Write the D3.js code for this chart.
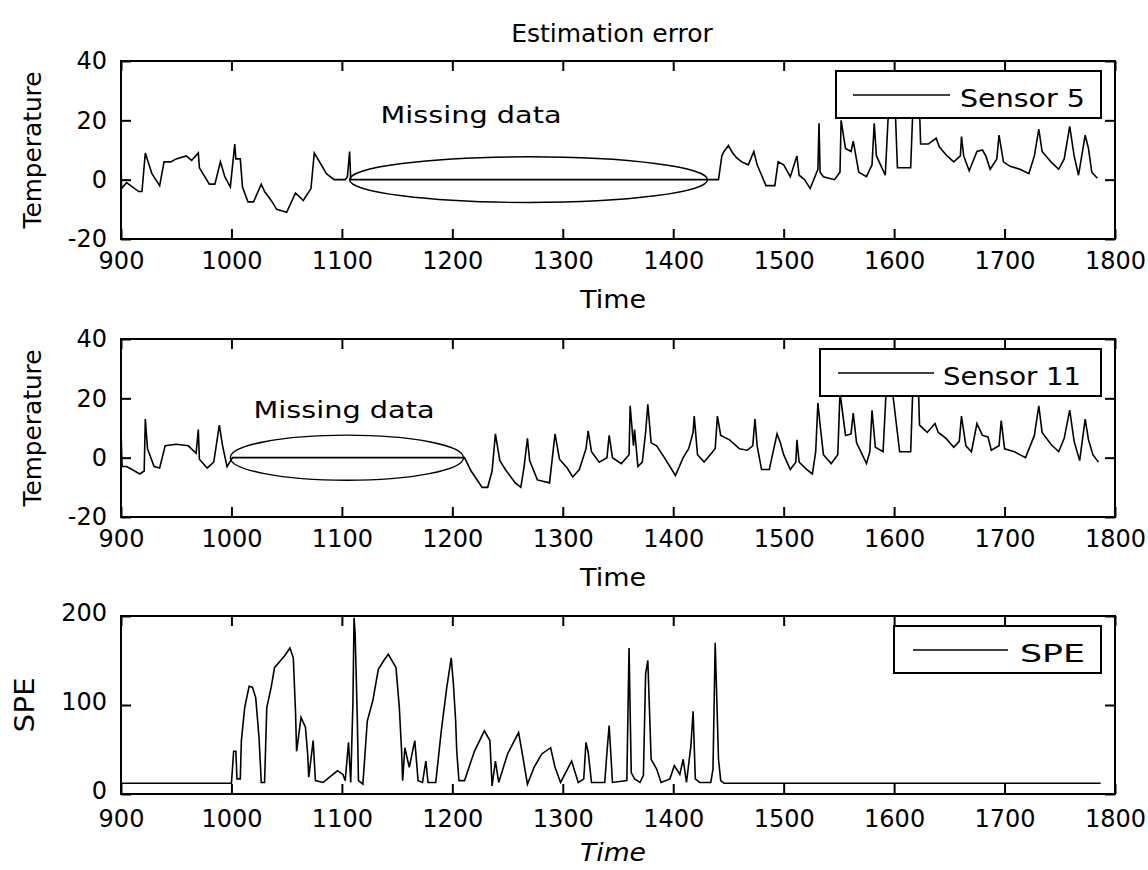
<!DOCTYPE html>
<html>
<head>
<meta charset="UTF-8">
<title>Estimation error</title>
<script src="https://d3js.org/d3.v7.min.js"></script>
<style>
    body { margin: 0; background: #fff; }
    svg text { font-family: "DejaVu Sans", sans-serif; fill: #000; }
</style>
</head>
<body>
<script>

    // ---- data ----
    var timeTicks = [900, 1000, 1100, 1200, 1300, 1400, 1500, 1600, 1700, 1800];
    var tempTicks = [-20, 0, 20, 40];
    var speTicks = [0, 100, 200];

    // sensor 5 estimation error (zeros = missing data)
    var sensor5 = [[900,7],[900.5,-3],[905,-1],[916,-4],[919,-4],[922,9],[928,2],[935,-2],[939,6],[945,6],[950,7],[959,8],[964,6.5],[970,9],[971,4],[980,-1.5],[985,-1.5],[990,6],[994,1],[999,-2.5],[1003,12],[1004,7],[1008,7],[1010,-2.5],[1015,-7.5],[1020,-7.5],[1027,-1.5],[1030,-4],[1036,-7],[1041,-10],[1050,-11],[1058,-4.5],[1065,-7],[1072,-3],[1075,9],[1079,6.5],[1086,2],[1093,0],[1103,0],[1105,1],[1107,9.5],[1108,0],
        [1441,0],[1444,8],[1446,9.5],[1450,11.5],[1453,9.5],[1457,7.5],[1462,6],[1468,5],[1473,9.5],[1476,5],[1480,1.5],[1484,-2],[1492,-2],[1495,6],[1500,5],[1506,1],[1512,8],[1514,1.5],[1519,0],[1524,-3],[1531,3.5],[1532,19],[1533,2.5],[1536,1],[1546,0],[1551,2.5],[1552,20],[1556,10.5],[1561,9.5],[1563,13],[1568,2.5],[1575,1],[1580,5],[1582,19],[1584,8],[1592,1.5],[1595,24],[1601,24],[1603,4],[1615,4],[1617,24],[1623,24],[1624,12],[1631,12],[1638,14],[1641,11],[1648,8],[1654,6],[1660,8],[1661,14.5],[1663,8],[1668,3],[1675,9.5],[1680,10],[1683,8],[1687,3.5],[1693,7],[1695,15],[1699,6],[1705,4.5],[1714,3.5],[1722,2],[1727,8],[1731,17],[1734,9.5],[1742,6],[1749,3.5],[1754,7],[1759,18],[1763,8],[1767,1.5],[1773,15],[1776,10.5],[1779,2.5],[1784,0.5]];

    // sensor 11 estimation error
    var sensor11 = [[900,9],[901,-3],[905,-3],[910,-4],[917,-5.5],[921,-4.5],[922,13],[924,3],[930,-3],[935,-3.5],[940,4],[950,4.5],[961,4],[968,1.5],[970,9.5],[971,-0.5],[978,-3.5],[984,-1.5],[989,11],[992,4],[996,-3],[1001,0],
        [1211,0],[1217,-4.5],[1227,-10],[1232,-10],[1236,-4.5],[1239,8],[1243,-1],[1248,-4],[1257,-8.5],[1262,-10],[1265,-3],[1268,6.5],[1270,-1],[1277,-7.5],[1288,-8.5],[1293,8],[1297,-0.5],[1304,-3.5],[1309,-6.5],[1315,-4],[1321,3],[1323,9],[1326,2],[1333,-1.5],[1340,0],[1342,7.5],[1345,0],[1353,-2],[1360,1],[1361,17.5],[1364,4],[1365,9.5],[1368,-3],[1372,-1.5],[1375,8.5],[1377,18],[1380,5],[1385,4],[1392,0],[1402,-6],[1409,0],[1414,3],[1418,8.5],[1419,14],[1422,1],[1428,-1.5],[1438,3],[1440,14],[1443,7.5],[1451,6],[1460,3],[1467,2.5],[1472,4],[1474,13],[1476,4],[1480,-4],[1487,-4],[1494,8],[1497,5],[1500,1],[1506,-4],[1511,-1.5],[1512,6],[1514,-1.5],[1521,-4],[1526,-5.5],[1529,2],[1531,18.5],[1533,11],[1536,1],[1543,-2],[1549,1],[1551,22],[1556,7.5],[1561,8],[1563,15],[1566,5],[1575,-2],[1578,2],[1580,16],[1583,3.5],[1590,2],[1593,24],[1598,24],[1605,2],[1615,2],[1617,24],[1622,24],[1623,11],[1630,8.5],[1637,11.5],[1640,8.5],[1647,6.5],[1654,3.5],[1659,5.5],[1661,14],[1665,4],[1670,2],[1675,11.5],[1680,7.5],[1685,7],[1688,2.5],[1695,4],[1697,12.5],[1700,3],[1709,2],[1719,0],[1727,7.5],[1731,17.5],[1734,8.5],[1742,4.5],[1749,2],[1754,6.5],[1759,16],[1763,5.5],[1768,-1],[1773,13],[1776,6],[1780,1],[1785,-1.5]];

    // squared prediction error
    var spe = [[900,12],[1000,12],[1001,30],[1002,48],[1004,48],[1005,17],[1008,17],[1009,60],[1012,97],[1016,121],[1019,120],[1022,108],[1025,63],[1027,13],[1030,13],[1032,97],[1036,120],[1039,142],[1048,155],[1053,164],[1056,153],[1058,93],[1059,48],[1063,86],[1067,75],[1069,45],[1070,19],[1074,60],[1076,15],[1083,13],[1090,20],[1096,26],[1101,22],[1103,15],[1106,58],[1108,13],[1110,103],[1111,198],[1112,180],[1114,82],[1115,15],[1119,11],[1123,82],[1128,105],[1133,140],[1138,150],[1142,157],[1149,142],[1152,97],[1154,50],[1155,15],[1157,52],[1161,30],[1166,60],[1169,15],[1173,13],[1176,37],[1178,13],[1185,13],[1190,71],[1195,120],[1199,153],[1201,123],[1203,82],[1204,48],[1206,15],[1211,15],[1220,48],[1229,71],[1234,60],[1236,9],[1239,37],[1242,13],[1250,45],[1260,69],[1263,48],[1268,11],[1274,30],[1281,45],[1289,52],[1293,30],[1298,13],[1308,37],[1314,13],[1319,17],[1321,58],[1323,47],[1326,13],[1338,13],[1340,47],[1342,77],[1345,13],[1358,15],[1360,164],[1362,24],[1365,17],[1370,13],[1373,21],[1375,135],[1377,150],[1380,39],[1385,28],[1389,13],[1397,17],[1401,32],[1406,22],[1409,39],[1412,13],[1416,54],[1418,93],[1420,17],[1424,13],[1434,13],[1436,28],[1438,170],[1441,39],[1443,15],[1446,12],[1787,12]];

    // missing-data ellipses: [start, end, half height], label anchor [time, value]
    var missing5 = [1107, 1431, 7.7];
    var missing11 = [999, 1210, 7.6];
    var missingLabel5 = [1135, 19];
    var missingLabel11 = [1020, 13.5];

    // ---- layout ----
    var width = 1148,
        Height = 870,
        left = 121,
        right = 1115,
        panelH = 178;

    var svg = d3.select("body").append("svg")
        .attr("width", width)
        .attr("height", Height);

    svg.append("rect").attr("width", width).attr("height", Height).style("fill", "#fff");

    var x = d3.scaleLinear().domain([900, 1800]).range([left, right]);

    svg.append("text")
        .attr("x", 612).attr("y", 42)
        .attr("text-anchor", "middle")
        .style("font-size", "25px")
        .text("Estimation error");

    function drawPanel(p) {
        var top = p.top, bottom = top + panelH;
        var y = d3.scaleLinear().domain(p.domain).range([bottom, top]);
        var g = svg.append("g");

        var clipId = "clip" + p.id;
        svg.append("clipPath").attr("id", clipId)
            .append("rect").attr("x", left).attr("y", top)
            .attr("width", right - left).attr("height", panelH);

        // series
        var line = d3.line().x(function(d) { return x(d[0]); }).y(function(d) { return y(d[1]); });
        g.append("path")
            .datum(p.data)
            .attr("clip-path", "url(#" + clipId + ")")
            .attr("d", line)
            .style("fill", "none")
            .style("stroke", "#000")
            .style("stroke-width", 1.6)
            .style("stroke-linejoin", "miter");

        // missing data ellipse + label
        if (p.missing) {
            g.append("ellipse")
                .attr("cx", x((p.missing[0] + p.missing[1]) / 2))
                .attr("cy", y(0))
                .attr("rx", (x(p.missing[1]) - x(p.missing[0])) / 2)
                .attr("ry", y(0) - y(p.missing[2]))
                .style("fill", "none").style("stroke", "#000").style("stroke-width", 1.4);
            g.append("text")
                .attr("x", x(p.label[0])).attr("y", y(p.label[1]))
                .attr("textLength", 181).attr("lengthAdjust", "spacingAndGlyphs")
                .style("font-size", "23px")
                .text("Missing data");
        }

        // axes (inward ticks on all four sides)
        var fmt = function(d) { return String(d); };
        var ax = [
            g.append("g").attr("transform", "translate(0," + bottom + ")")
                .call(d3.axisBottom(x).tickValues(timeTicks).tickSize(-10).tickPadding(p.xPad).tickFormat(fmt)),
            g.append("g").attr("transform", "translate(0," + top + ")")
                .call(d3.axisTop(x).tickValues(timeTicks).tickSize(-10).tickFormat("")),
            g.append("g").attr("transform", "translate(" + left + ",0)")
                .call(d3.axisLeft(y).tickValues(p.ticks).tickSize(-10).tickPadding(14).tickFormat(fmt)),
            g.append("g").attr("transform", "translate(" + right + ",0)")
                .call(d3.axisRight(y).tickValues(p.ticks).tickSize(-10).tickFormat(""))
        ];
        ax.forEach(function(a) {
            a.select(".domain").remove();
            a.selectAll("line").style("stroke", "#000").style("stroke-width", 2);
            a.selectAll("text").style("font-size", "24px").style("font-family", "DejaVu Sans, sans-serif");
        });
        ax[2].selectAll("text").attr("dy", p.yDy);

        g.append("rect")
            .attr("x", left).attr("y", top)
            .attr("width", right - left).attr("height", panelH)
            .style("fill", "none").style("stroke", "#000").style("stroke-width", 2);

        // legend
        var lg = p.legend;
        g.append("rect")
            .attr("x", lg.x0).attr("y", top + 10)
            .attr("width", 1101 - lg.x0).attr("height", 47)
            .style("fill", "#fff").style("stroke", "#000").style("stroke-width", 2);
        g.append("line")
            .attr("x1", lg.l0).attr("x2", lg.l1)
            .attr("y1", top + 34).attr("y2", top + 34)
            .style("stroke", "#000").style("stroke-width", 1.6);
        g.append("text")
            .attr("x", lg.t0).attr("y", top + 46)
            .attr("textLength", lg.tw).attr("lengthAdjust", "spacingAndGlyphs")
            .style("font-size", "25px")
            .text(p.name);

        // axis labels
        g.append("text")
            .attr("transform", "translate(" + p.yLabelX + "," + (top + panelH / 2) + ") rotate(-90)")
            .attr("text-anchor", "middle")
            .attr("textLength", p.yLabelW).attr("lengthAdjust", "spacingAndGlyphs")
            .style("font-size", p.yLabelSize)
            .text(p.yLabel);
        g.append("text")
            .attr("x", 613).attr("y", bottom + p.xLabelDy)
            .attr("text-anchor", "middle")
            .style("font-size", "24px")
            .style("font-style", p.italic ? "italic" : "normal")
            .attr("textLength", 66).attr("lengthAdjust", "spacingAndGlyphs")
            .text("Time");
    }

    drawPanel({ id: 1, top: 61, domain: [-20, 40], ticks: tempTicks, data: sensor5,
        missing: missing5, label: missingLabel5, name: "Sensor 5",
        legend: { x0: 836, l0: 853, l1: 950, t0: 960, tw: 125 },
        xPad: 13, yDy: "0.32em",
        yLabel: "Temperature", yLabelX: 41, yLabelW: 157, yLabelSize: "24px", xLabelDy: 69 });

    drawPanel({ id: 2, top: 339, domain: [-20, 40], ticks: tempTicks, data: sensor11,
        missing: missing11, label: missingLabel11, name: "Sensor 11",
        legend: { x0: 820, l0: 838, l1: 934, t0: 943, tw: 138 },
        xPad: 13, yDy: "0.32em",
        yLabel: "Temperature", yLabelX: 41, yLabelW: 157, yLabelSize: "24px", xLabelDy: 69 });

    drawPanel({ id: 3, top: 616, domain: [0, 200], ticks: speTicks, data: spe,
        name: "SPE",
        legend: { x0: 894, l0: 913, l1: 1008, t0: 1020, tw: 65 },
        xPad: 16, yDy: "0.2em",
        yLabel: "SPE", yLabelX: 34, yLabelW: 55, yLabelSize: "26px", xLabelDy: 67, italic: true });

</script>
</body>
</html>
